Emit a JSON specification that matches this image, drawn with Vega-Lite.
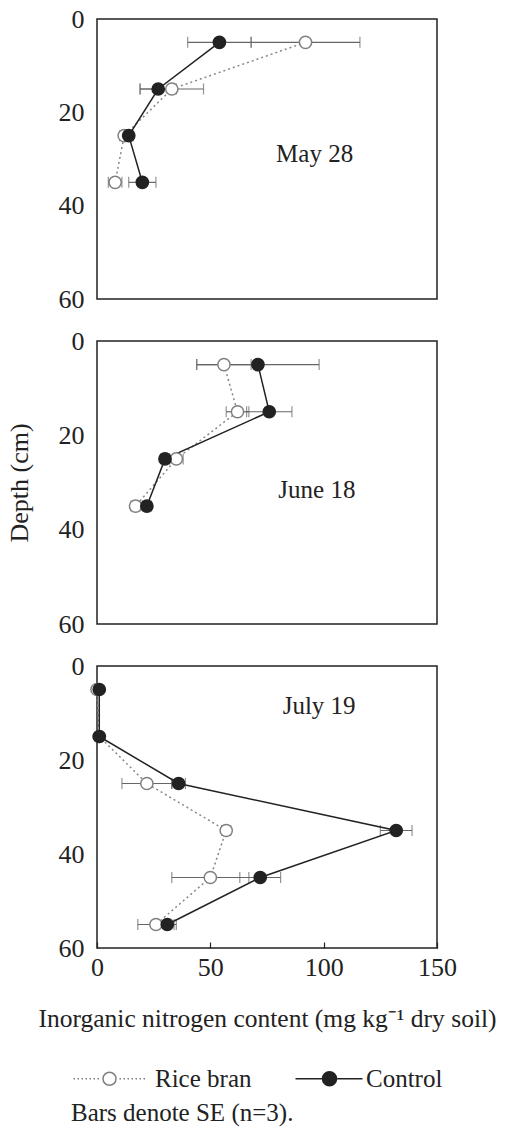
{
  "$schema": "https://vega.github.io/schema/vega-lite/v6.json",
  "padding": 5,
  "background": "white",
  "datasets": {
    "n": [
      {"date": "May 28", "treatment": "Rice bran", "depth": 5, "value": 92, "se": 24},
      {"date": "May 28", "treatment": "Rice bran", "depth": 15, "value": 33, "se": 14},
      {"date": "May 28", "treatment": "Rice bran", "depth": 25, "value": 12, "se": 2},
      {"date": "May 28", "treatment": "Rice bran", "depth": 35, "value": 8, "se": 3},
      {"date": "May 28", "treatment": "Control", "depth": 5, "value": 54, "se": 14},
      {"date": "May 28", "treatment": "Control", "depth": 15, "value": 27, "se": 8},
      {"date": "May 28", "treatment": "Control", "depth": 25, "value": 14, "se": 2},
      {"date": "May 28", "treatment": "Control", "depth": 35, "value": 20, "se": 6},
      {"date": "June 18", "treatment": "Rice bran", "depth": 5, "value": 56, "se": 12},
      {"date": "June 18", "treatment": "Rice bran", "depth": 15, "value": 62, "se": 5},
      {"date": "June 18", "treatment": "Rice bran", "depth": 25, "value": 35, "se": 3},
      {"date": "June 18", "treatment": "Rice bran", "depth": 35, "value": 17, "se": 2},
      {"date": "June 18", "treatment": "Control", "depth": 5, "value": 71, "se": 27},
      {"date": "June 18", "treatment": "Control", "depth": 15, "value": 76, "se": 10},
      {"date": "June 18", "treatment": "Control", "depth": 25, "value": 30, "se": 2},
      {"date": "June 18", "treatment": "Control", "depth": 35, "value": 22, "se": 2},
      {"date": "July 19", "treatment": "Rice bran", "depth": 5, "value": 0, "se": 0},
      {"date": "July 19", "treatment": "Rice bran", "depth": 15, "value": 1, "se": 0},
      {"date": "July 19", "treatment": "Rice bran", "depth": 25, "value": 22, "se": 11},
      {"date": "July 19", "treatment": "Rice bran", "depth": 35, "value": 57, "se": 2},
      {"date": "July 19", "treatment": "Rice bran", "depth": 45, "value": 50, "se": 17},
      {"date": "July 19", "treatment": "Rice bran", "depth": 55, "value": 26, "se": 8},
      {"date": "July 19", "treatment": "Control", "depth": 5, "value": 1, "se": 0},
      {"date": "July 19", "treatment": "Control", "depth": 15, "value": 1, "se": 0},
      {"date": "July 19", "treatment": "Control", "depth": 25, "value": 36, "se": 3},
      {"date": "July 19", "treatment": "Control", "depth": 35, "value": 132, "se": 7},
      {"date": "July 19", "treatment": "Control", "depth": 45, "value": 72, "se": 9},
      {"date": "July 19", "treatment": "Control", "depth": 55, "value": 31, "se": 4}
    ]
  },
  "config": {
    "font": "Liberation Serif",
    "view": {"stroke": "#222", "strokeWidth": 1.5},
    "axis": {
      "labelFont": "Liberation Serif", "labelFontSize": 26, "labelColor": "#222",
      "titleFont": "Liberation Serif", "titleFontSize": 26, "titleFontWeight": "normal", "titleColor": "#222",
      "domain": false, "grid": false, "labelFlush": false, "labelOverlap": false
    },
    "legend": {
      "labelFont": "Liberation Serif", "labelFontSize": 25, "labelColor": "#222",
      "titleFont": "Liberation Serif", "titleFontSize": 25, "titleFontWeight": "normal", "titleColor": "#222"
    }
  },
  "spacing": 14,
  "resolve": {
    "scale": {"shape": "shared", "fill": "shared", "stroke": "shared"},
    "legend": {"shape": "shared", "fill": "shared", "stroke": "shared"}
  },
  "vconcat": [
    {
      "width": 340, "height": 280,
      "layer": [
        {"data": {"name": "n"},
         "transform": [{"filter": "datum.date === 'May 28'"}],
         "mark": {"type": "errorbar", "ticks": {"size": 11}, "thickness": 1.2, "color": "#666"},
         "encoding": {
           "x": {"field": "value", "type": "quantitative", "scale": {"domain": [0, 150], "nice": false}, "axis": null},
           "xError": {"field": "se"},
           "y": {"field": "depth", "type": "quantitative", "scale": {"domain": [0, 60], "reverse": true, "nice": false},
                 "axis": {"values": [0, 20, 40, 60], "ticks": false, "labelPadding": 13, "title": null}}
         }},
        {"data": {"name": "n"},
         "transform": [{"filter": "datum.date === 'May 28' && datum.treatment === 'Rice bran'"}],
         "mark": {"type": "line", "strokeWidth": 1.5, "strokeDash": [2, 3], "color": "#888"},
         "encoding": {
           "x": {"field": "value", "type": "quantitative"},
           "y": {"field": "depth", "type": "quantitative"},
           "order": {"field": "depth"}
         }},
        {"data": {"name": "n"},
         "transform": [{"filter": "datum.date === 'May 28' && datum.treatment === 'Control'"}],
         "mark": {"type": "line", "strokeWidth": 1.5, "color": "#222"},
         "encoding": {
           "x": {"field": "value", "type": "quantitative"},
           "y": {"field": "depth", "type": "quantitative"},
           "order": {"field": "depth"}
         }},
        {"data": {"name": "n"},
         "transform": [{"filter": "datum.date === 'May 28'"}],
         "mark": {"type": "point", "shape": "circle", "filled": true, "size": 150, "strokeWidth": 1.5, "opacity": 1},
         "encoding": {
           "x": {"field": "value", "type": "quantitative"},
           "y": {"field": "depth", "type": "quantitative"},
           "fill": {"field": "treatment", "type": "nominal", "scale": {"domain": ["Rice bran", "Control"], "range": ["white", "#222"]}},
           "stroke": {"field": "treatment", "type": "nominal", "scale": {"domain": ["Rice bran", "Control"], "range": ["#808080", "#222"]}}
         }},
        {"data": {"values": [{"label": "May 28"}]},
         "mark": {"type": "text", "fontSize": 25, "color": "#222", "font": "Liberation Serif"},
         "encoding": {"text": {"field": "label"}, "x": {"datum": 96, "type": "quantitative"}, "y": {"datum": 29, "type": "quantitative"}}}
      ]
    },
    {
      "width": 340, "height": 283,
      "layer": [
        {"data": {"name": "n"},
         "transform": [{"filter": "datum.date === 'June 18'"}],
         "mark": {"type": "errorbar", "ticks": {"size": 11}, "thickness": 1.2, "color": "#666"},
         "encoding": {
           "x": {"field": "value", "type": "quantitative", "scale": {"domain": [0, 150], "nice": false}, "axis": null},
           "xError": {"field": "se"},
           "y": {"field": "depth", "type": "quantitative", "scale": {"domain": [0, 60], "reverse": true, "nice": false},
                 "axis": {"values": [0, 20, 40, 60], "ticks": false, "labelPadding": 13, "title": "Depth (cm)", "titlePadding": 26}}
         }},
        {"data": {"name": "n"},
         "transform": [{"filter": "datum.date === 'June 18' && datum.treatment === 'Rice bran'"}],
         "mark": {"type": "line", "strokeWidth": 1.5, "strokeDash": [2, 3], "color": "#888"},
         "encoding": {
           "x": {"field": "value", "type": "quantitative"},
           "y": {"field": "depth", "type": "quantitative"},
           "order": {"field": "depth"}
         }},
        {"data": {"name": "n"},
         "transform": [{"filter": "datum.date === 'June 18' && datum.treatment === 'Control'"}],
         "mark": {"type": "line", "strokeWidth": 1.5, "color": "#222"},
         "encoding": {
           "x": {"field": "value", "type": "quantitative"},
           "y": {"field": "depth", "type": "quantitative"},
           "order": {"field": "depth"}
         }},
        {"data": {"name": "n"},
         "transform": [{"filter": "datum.date === 'June 18'"}],
         "mark": {"type": "point", "shape": "circle", "filled": true, "size": 150, "strokeWidth": 1.5, "opacity": 1},
         "encoding": {
           "x": {"field": "value", "type": "quantitative"},
           "y": {"field": "depth", "type": "quantitative"},
           "fill": {"field": "treatment", "type": "nominal"},
           "stroke": {"field": "treatment", "type": "nominal"}
         }},
        {"data": {"values": [{"label": "June 18"}]},
         "mark": {"type": "text", "fontSize": 25, "color": "#222", "font": "Liberation Serif"},
         "encoding": {"text": {"field": "label"}, "x": {"datum": 97, "type": "quantitative"}, "y": {"datum": 31.5, "type": "quantitative"}}}
      ]
    },
    {
      "width": 340, "height": 282,
      "layer": [
        {"data": {"name": "n"},
         "transform": [{"filter": "datum.date === 'July 19'"}],
         "mark": {"type": "errorbar", "ticks": {"size": 11}, "thickness": 1.2, "color": "#666"},
         "encoding": {
           "x": {"field": "value", "type": "quantitative", "scale": {"domain": [0, 150], "nice": false},
                 "axis": {"values": [0, 50, 100, 150], "tickSize": -6, "tickColor": "#222", "tickWidth": 1.2, "labelPadding": 12,
                          "title": "Inorganic nitrogen content (mg kg⁻¹ dry soil)", "titleFontSize": 25.5, "titlePadding": 26}},
           "xError": {"field": "se"},
           "y": {"field": "depth", "type": "quantitative", "scale": {"domain": [0, 60], "reverse": true, "nice": false},
                 "axis": {"values": [0, 20, 40, 60], "ticks": false, "labelPadding": 13, "title": null}}
         }},
        {"data": {"name": "n"},
         "transform": [{"filter": "datum.date === 'July 19' && datum.treatment === 'Rice bran'"}],
         "mark": {"type": "line", "strokeWidth": 1.5, "strokeDash": [2, 3], "color": "#888"},
         "encoding": {
           "x": {"field": "value", "type": "quantitative"},
           "y": {"field": "depth", "type": "quantitative"},
           "order": {"field": "depth"}
         }},
        {"data": {"name": "n"},
         "transform": [{"filter": "datum.date === 'July 19' && datum.treatment === 'Control'"}],
         "mark": {"type": "line", "strokeWidth": 1.5, "color": "#222"},
         "encoding": {
           "x": {"field": "value", "type": "quantitative"},
           "y": {"field": "depth", "type": "quantitative"},
           "order": {"field": "depth"}
         }},
        {"data": {"name": "n"},
         "transform": [{"filter": "datum.date === 'July 19'"}],
         "mark": {"type": "point", "shape": "circle", "filled": true, "size": 150, "strokeWidth": 1.5, "opacity": 1},
         "encoding": {
           "x": {"field": "value", "type": "quantitative"},
           "y": {"field": "depth", "type": "quantitative"},
           "fill": {"field": "treatment", "type": "nominal"},
           "stroke": {"field": "treatment", "type": "nominal"}
         }},
        {"data": {"name": "n"},
         "transform": [{"filter": "false"}],
         "mark": {"type": "point", "filled": true, "strokeWidth": 1.5},
         "encoding": {
           "x": {"field": "value", "type": "quantitative"},
           "y": {"field": "depth", "type": "quantitative"},
           "shape": {"field": "treatment", "type": "nominal",
                     "scale": {"domain": ["Rice bran", "Control"],
                               "range": ["M-10,0h1.5M-6,0h1.5M-2,0h1.5M2,0h1.5M6,0h1.5M10,0h1.5M14,0h1.5M32.5,0A6.5,6.5,0,1,1,19.5,0A6.5,6.5,0,1,1,32.5,0M36,0h1.5M40,0h1.5M44,0h1.5M48,0h1.5M52,0h1.5M56,0h1.5M60,0h1.5",
                                         "M1,0H28M42,0H68M42,0A7,7,0,1,1,28,0A7,7,0,1,1,42,0"]},
                     "legend": {
                       "orient": "none", "legendX": -26, "legendY": 1047, "direction": "horizontal",
                       "title": "Bars denote SE (n=3).", "titleOrient": "bottom", "titleAnchor": "start", "titlePadding": 9, "titleLimit": 450,
                       "symbolSize": 4, "symbolStrokeWidth": 1.5, "symbolOpacity": 1,
                       "labelOffset": 59, "labelLimit": 300, "columnPadding": 30, "padding": 0
                     }},
           "fill": {"field": "treatment", "type": "nominal"},
           "stroke": {"field": "treatment", "type": "nominal"}
         }},
        {"data": {"values": [{"label": "July 19"}]},
         "mark": {"type": "text", "fontSize": 25, "color": "#222", "font": "Liberation Serif"},
         "encoding": {"text": {"field": "label"}, "x": {"datum": 98, "type": "quantitative"}, "y": {"datum": 8.5, "type": "quantitative"}}}
      ]
    }
  ]
}
